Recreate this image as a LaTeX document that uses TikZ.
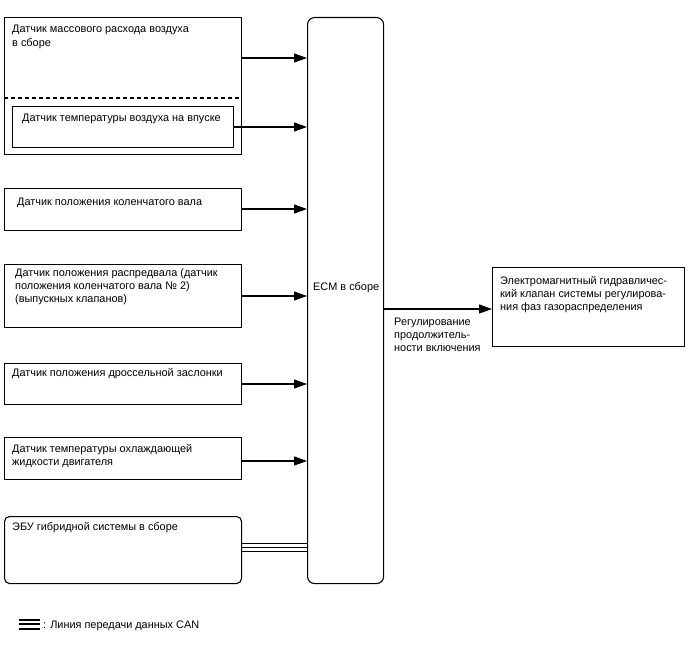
\documentclass[tikz,border=0pt]{standalone}
\usepackage{fontspec}
\setmainfont{Liberation Sans}
\usetikzlibrary{arrows.meta}
\begin{document}
\begin{tikzpicture}[x=1pt,y=-1pt,
  box/.style={draw, line width=1.1pt, inner sep=0pt, anchor=north west},
  txt/.style={anchor=base west, inner sep=0pt, align=left, font=\fontsize{10.9}{13.3}\selectfont},
  arr/.style={line width=1.1pt, -{Triangle[length=13pt,width=9pt]}},
  canl/.style={line width=1.4pt}]
\useasboundingbox (0,0) rectangle (688,658);
% ECM
\node[box, rounded corners=7pt, minimum width=76pt, minimum height=566pt] (ecm) at (307,17) {};
\node[txt] (ecmt) at (313,290) {ECM в сборе};
% MAF
\node[box, minimum width=237pt, minimum height=137pt] (maf) at (4,17) {};
\node[txt] (maft) at (12,46.3) {Датчик массового расхода воздуха\\в сборе};
\coordinate (dl) at (4,98);
\coordinate (dr) at (241,98);
\draw[line width=1.1pt, dash pattern=on 4pt off 3pt] (dl) -- (dr);
\node[box, minimum width=221pt, minimum height=41pt] (iat) at (12,106) {};
\node[txt] (iatt) at (22,122) {Датчик температуры воздуха на впуске};
% crank
\node[box, minimum width=237pt, minimum height=42pt] (ckp) at (4,188) {};
\node[txt] (ckpt) at (17,205) {Датчик положения коленчатого вала};
% cam
\node[box, minimum width=237pt, minimum height=63pt] (cmp) at (4,264) {};
\node[txt] (cmpt) at (15,302.6) {Датчик положения распредвала (датчик\\положения коленчатого вала № 2)\\(выпускных клапанов)};
% throttle
\node[box, minimum width=237pt, minimum height=41pt] (tps) at (4,363) {};
\node[txt] (tpst) at (12,376) {Датчик положения дроссельной заслонки};
% coolant
\node[box, minimum width=237pt, minimum height=42pt] (ect) at (4,437) {};
\node[txt] (ectt) at (12,465.3) {Датчик температуры охлаждающей\\жидкости двигателя};
% hybrid ECU
\node[box, rounded corners=5pt, minimum width=237pt, minimum height=67pt] (hv) at (4,516) {};
\node[txt] (hvt) at (12,530) {ЭБУ гибридной системы в сборе};
% output
\node[box, minimum width=192pt, minimum height=79pt] (ocv) at (492,267) {};
\node[txt] (ocvt) at (500,310.6) {Электромагнитный гидравличес-\\кий клапан системы регулирова-\\ния фаз газораспределения};
\node[txt] (lbl) at (394,351.6) {Регулирование\\продолжитель-\\ности включения};
% arrows
\draw[arr] (maf.east |- 0,58) -- (ecm.west |- 0,58);
\draw[arr] (iat.east |- 0,127) -- (ecm.west |- 0,127);
\draw[arr] (ckp.east |- 0,209) -- (ecm.west |- 0,209);
\draw[arr] (cmp.east |- 0,296) -- (ecm.west |- 0,296);
\draw[arr] (tps.east |- 0,384) -- (ecm.west |- 0,384);
\draw[arr] (ect.east |- 0,461) -- (ecm.west |- 0,461);
\draw[arr] (ecm.east |- 0,309) -- (ocv.west |- 0,309);
% CAN
\foreach \yy in {543.5,547.5,551.5}{
  \draw[canl] (hv.east |- 0,\yy) -- (ecm.west |- 0,\yy);
}
% legend
\coordinate (lg1) at (19,620);
\coordinate (lg2) at (40,620);
\draw[line width=2pt] (lg1) -- (lg2);
\draw[line width=2pt] ([yshift=-4.2pt]lg1) -- ([yshift=-4.2pt]lg2);
\draw[line width=2pt] ([yshift=-8.5pt]lg1) -- ([yshift=-8.5pt]lg2);
\node[txt] (lgt) at (43,628) {: Линия передачи данных CAN};
\end{tikzpicture}
\end{document}
